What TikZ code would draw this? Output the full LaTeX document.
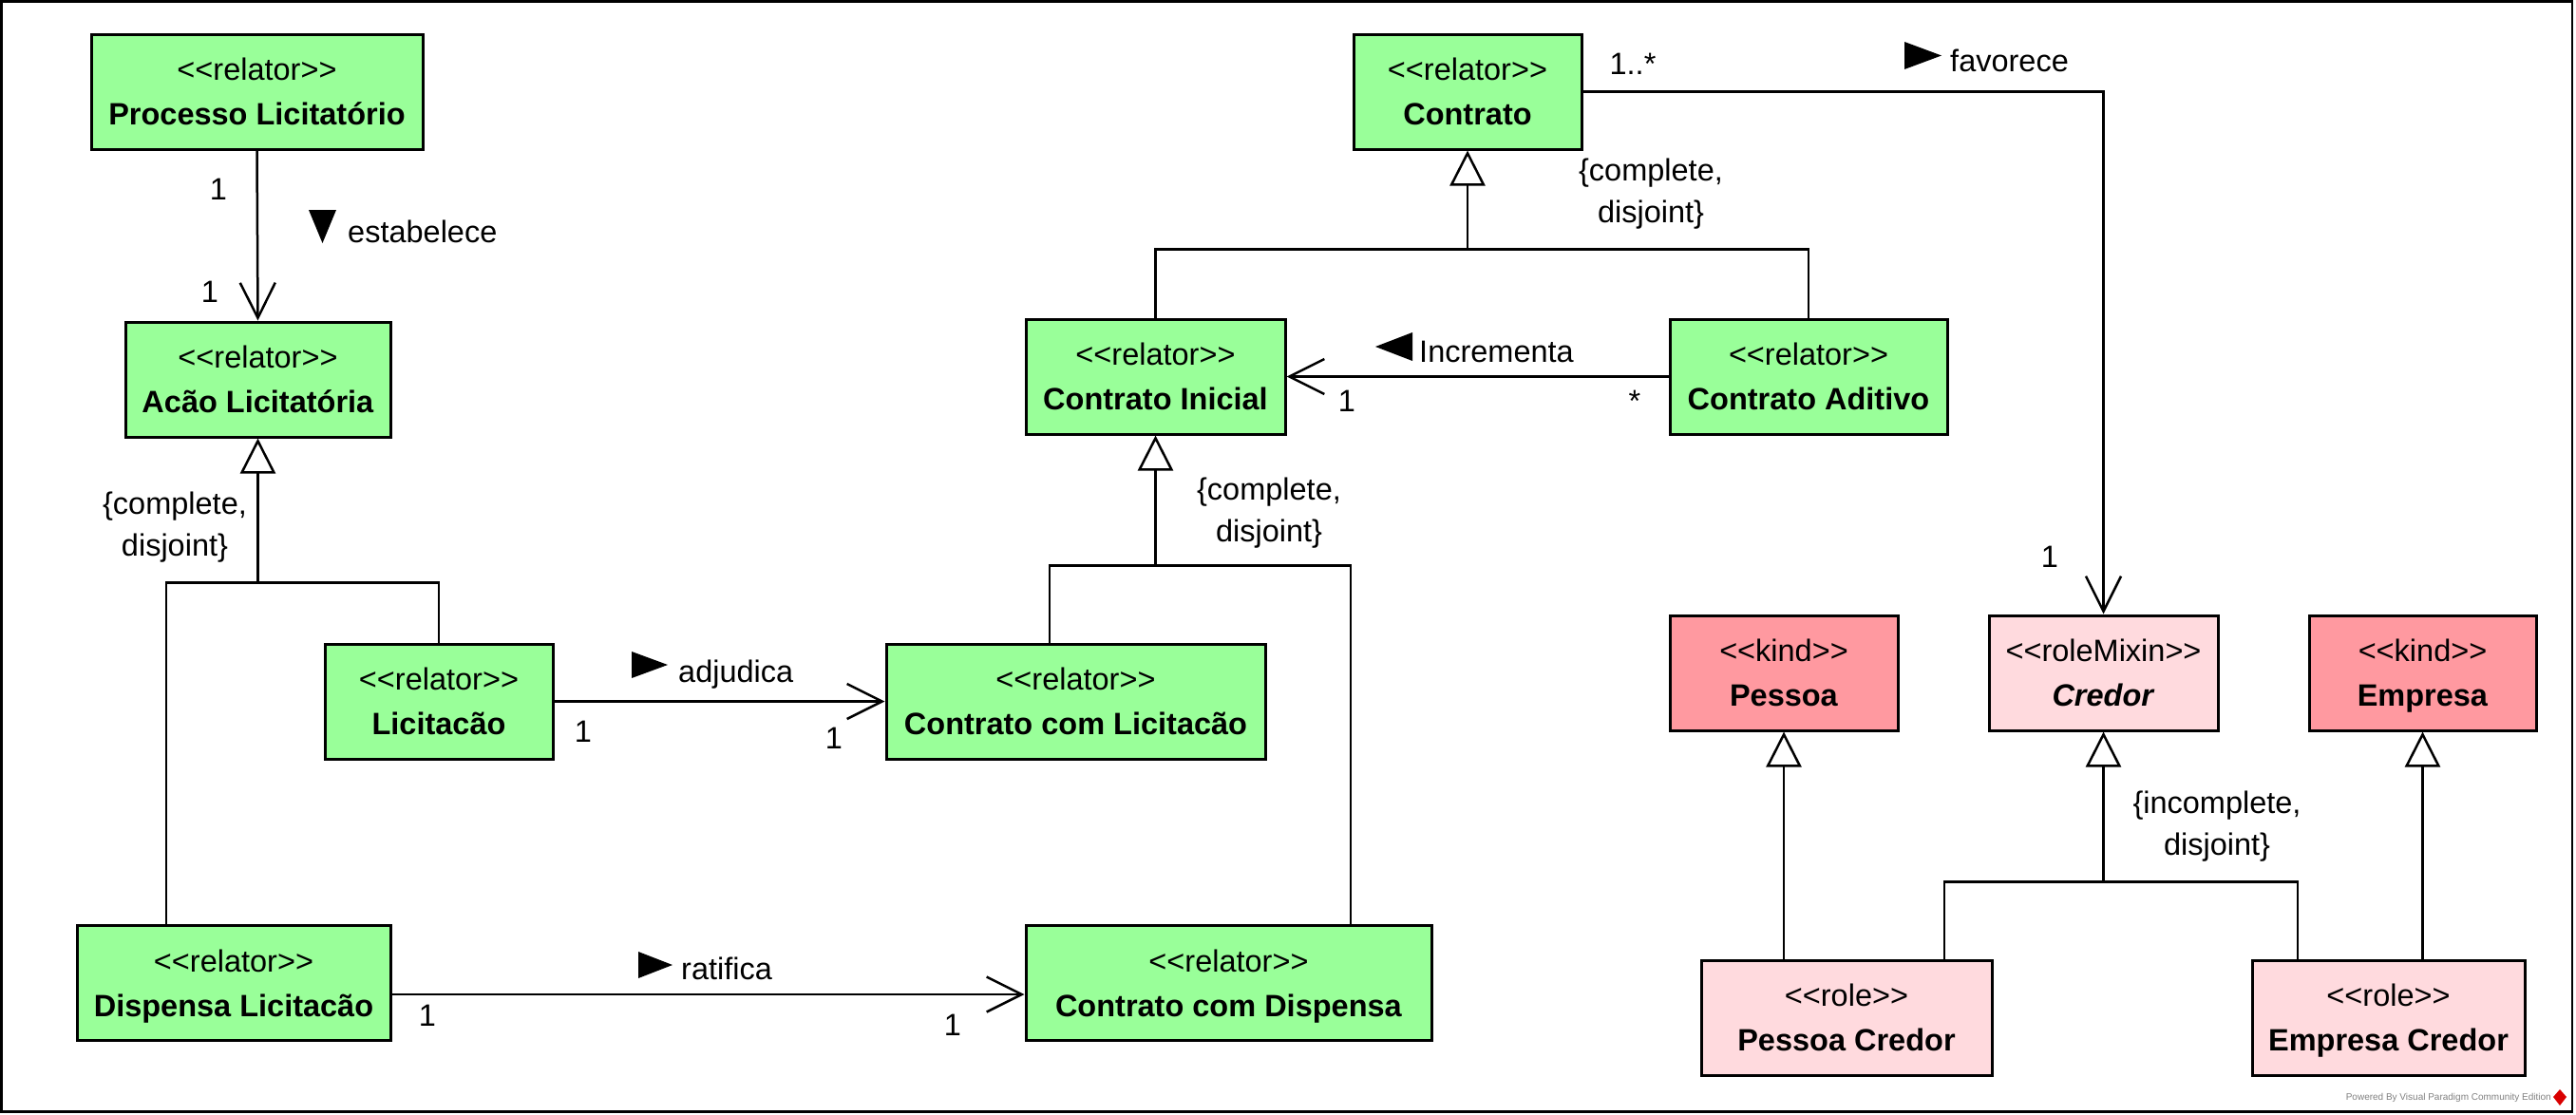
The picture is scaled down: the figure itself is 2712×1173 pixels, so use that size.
\documentclass[tikz,border=0pt]{standalone}
\usepackage{fontspec}
\setmainfont{Liberation Sans}
\usetikzlibrary{arrows.meta,calc}
\definecolor{relc}{RGB}{153,255,153}
\definecolor{kindc}{RGB}{255,153,160}
\definecolor{rolec}{RGB}{255,218,222}
\newcommand{\stereo}[1]{\rule{0pt}{30pt}<{}<#1>{}>}
\newcommand{\nm}[1]{\textbf{#1}\rule[-7pt]{0pt}{7pt}}
\begin{document}
\begin{tikzpicture}[x=1pt,y=-1pt,
  cls/.style={draw, line width=3pt, rectangle, inner sep=0pt, minimum height=121pt, align=center, font=\fontsize{32.5}{47}\selectfont},
  rel/.style={cls, fill=relc},
  kindbox/.style={cls, fill=kindc},
  rolebox/.style={cls, fill=rolec},
  conn/.style={line width=2.5pt},
  assoc/.style={conn, -{Straight Barb[length=37pt,width=37pt]}},
  gen/.style={conn, -{Triangle[open,length=37pt,width=37pt]}},
  lbl/.style={font=\fontsize{32.5}{44}\selectfont, inner sep=0pt, align=center},
]
\useasboundingbox (0,0) rectangle (2712,1173);
\draw[line width=2.5pt] (1.5,1.5) rectangle (2708,1170.5);

% classes
\node[rel, minimum width=349pt] (PL) at (270.5,96.5) {\stereo{relator}\\\nm{Processo Licitatório}};
\node[rel, minimum width=279pt] (AL) at (271.5,399.5) {\stereo{relator}\\\nm{Acão Licitatória}};
\node[rel, minimum width=240pt] (LIC) at (462,738.5) {\stereo{relator}\\\nm{Licitacão}};
\node[rel, minimum width=330pt] (DL) at (246,1035) {\stereo{relator}\\\nm{Dispensa Licitacão}};
\node[rel, minimum width=240pt] (CT) at (1545,96.5) {\stereo{relator}\\\nm{Contrato}};
\node[rel, minimum width=273pt] (CI) at (1216.5,396.5) {\stereo{relator}\\\nm{Contrato Inicial}};
\node[rel, minimum width=292pt] (CA) at (1904,396.5) {\stereo{relator}\\\nm{Contrato Aditivo}};
\node[rel, minimum width=399pt] (CCL) at (1132.5,738.5) {\stereo{relator}\\\nm{Contrato com Licitacão}};
\node[rel, minimum width=427pt] (CCD) at (1293.5,1035) {\stereo{relator}\\\nm{Contrato com Dispensa}};
\node[kindbox, minimum width=240pt] (PES) at (1878,708.5) {\stereo{kind}\\\nm{Pessoa}};
\node[rolebox, minimum width=241pt] (CRED) at (2214.5,708.5) {\stereo{roleMixin}\\\nm{\textit{Credor}}};
\node[kindbox, minimum width=239pt] (EMP) at (2550.5,708.5) {\stereo{kind}\\\nm{Empresa}};
\node[rolebox, minimum width=306pt] (PC) at (1944,1071.5) {\stereo{role}\\\nm{Pessoa Credor}};
\node[rolebox, minimum width=287pt] (EC) at (2514.5,1071.5) {\stereo{role}\\\nm{Empresa Credor}};

% generalizations
\coordinate (ALbar) at ($(AL.south)+(0,152)$);
\draw[gen] (LIC.north) |- (ALbar) -- (AL.south);
\draw[conn] ([xshift=-71pt]DL.north) |- (ALbar);

\coordinate (CTbar) at ($(CT.south)+(0,104)$);
\draw[gen] (CI.north) |- (CTbar) -- (CT.south);
\draw[conn] (CA.north) |- (CTbar);

\coordinate (CIbar) at ($(CI.south)+(0,137)$);
\draw[gen] ([xshift=-27.5pt]CCL.north) |- (CIbar) -- (CI.south);
\draw[conn] ([xshift=128.5pt]CCD.north) |- (CIbar);

\coordinate (CRbar) at ($(CRED.south)+(0,158)$);
\draw[gen] ([xshift=103pt]PC.north) |- (CRbar) -- (CRED.south);
\draw[conn] ([xshift=-95.5pt]EC.north) |- (CRbar);
\draw[gen] (PC.north -| PES.south) -- (PES.south);
\draw[gen] (EC.north -| EMP.south) -- (EMP.south);

% associations
\draw[assoc] (PL.south) -- (AL.north);
\draw[assoc] (CA.west) -- (CI.east);
\draw[assoc] (LIC.east) -- (CCL.west);
\draw[assoc] ($(DL.east)+(0,12)$) -- ($(CCD.west)+(0,12)$);
\draw[assoc] (CT.east) -| (CRED.north);

% multiplicities
\node[lbl, anchor=base] (m1) at (230,210) {1};
\node[lbl, anchor=base] (m2) at (221,318) {1};
\node[lbl, anchor=base] (m3) at (614,781) {1};
\node[lbl, anchor=base] (m4) at (878,788) {1};
\node[lbl, anchor=base] (m5) at (450,1080) {1};
\node[lbl, anchor=base] (m6) at (1003,1090) {1};
\node[lbl, anchor=base] (m7) at (1418,433) {1};
\node[lbl, anchor=base] (m8) at (1721,433) {*};
\node[lbl, anchor=base] (m9) at (1719,78) {1..*};
\node[lbl, anchor=base] (m10) at (2158,597) {1};

% association names
\node[lbl, anchor=base west] (estab) at (366,255) {estabelece};
\fill (325,221) -- (354,221) -- (339.5,256) -- cycle;
\node[lbl, anchor=base west] (adj) at (714,718) {adjudica};
\fill (665,686) -- (665,714) -- (703,700) -- cycle;
\node[lbl, anchor=base west] (rat) at (717,1031) {ratifica};
\fill (672,1002) -- (672,1030) -- (708,1016) -- cycle;
\node[lbl, anchor=base west] (incr) at (1494,381) {Incrementa};
\fill (1487,350) -- (1487,380) -- (1448,365) -- cycle;
\node[lbl, anchor=base west] (fav) at (2053,75) {favorece};
\fill (2005,44) -- (2005,73) -- (2044,58.5) -- cycle;

% constraints
\node[lbl] (c1) at (184,555) {\{complete,\\disjoint\}};
\node[lbl] (c2) at (1738,204.5) {\{complete,\\disjoint\}};
\node[lbl] (c3) at (1336,540.5) {\{complete,\\disjoint\}};
\node[lbl] (c4) at (2334,870.5) {\{incomplete,\\disjoint\}};

% watermark
\node[font=\fontsize{10}{12}\selectfont, text=gray, anchor=east, inner sep=0pt] (wm) at (2686,1156) {Powered By Visual Paradigm Community Edition};
\fill[red!85!black] (2695,1147) -- (2702,1155) -- (2695,1164) -- (2688,1155) -- cycle;
\end{tikzpicture}
\end{document}
